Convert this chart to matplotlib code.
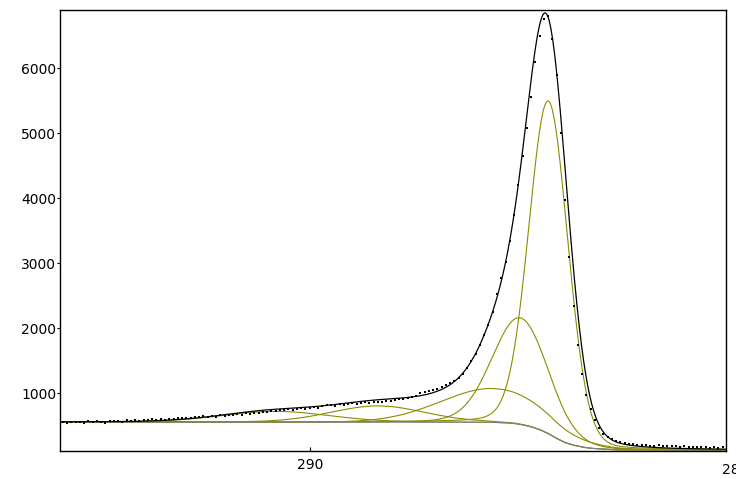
import numpy as np
import matplotlib
matplotlib.use("Agg")
import matplotlib.pyplot as plt
import matplotlib.transforms as mtransforms

# Binding energy grid of the measured points (eV), 0.1 eV steps
energia = np.linspace(295.9, 280.3, 157)

contagens = [
    548, 560, 541, 556, 563, 552, 548, 570, 559, 575,
    562, 548, 580, 566, 575, 560, 584, 571, 589, 578,
    595, 582, 600, 590, 605, 596, 611, 603, 620, 612,
    627, 618, 636, 628, 645, 632, 650, 641, 658, 650,
    668, 660, 676, 665, 690, 680, 697, 700, 715, 708,
    728, 722, 740, 735, 752, 746, 762, 770, 758, 780,
    790, 776, 800, 812, 820, 808, 830, 822, 838, 845,
    832, 850, 858, 846, 865, 872, 868, 885, 880, 898,
    905, 918, 930, 948, 965, 1000, 1012, 1030, 1045, 1062,
    1090, 1120, 1155, 1195, 1240, 1300, 1390, 1490, 1610, 1750,
    1900, 2050, 2250, 2520, 2780, 3020, 3350, 3750, 4200, 4650,
    5080, 5560, 6100, 6500, 6760, 6800, 6450, 5900, 5000, 3974,
    3100, 2350, 1750, 1300, 980, 760, 590, 460, 380, 325,
    290, 262, 245, 232, 222, 212, 208, 200, 205, 195,
    192, 198, 185, 190, 182, 188, 178, 184, 172, 180,
    175, 168, 178, 165, 172, 160, 168,
]

# Background (grey line) read at a few energies
fundo_energia = [296.0, 285.8, 285.4, 285.2, 285.0, 284.8, 284.6, 284.4,
                 284.2, 284.0, 283.8, 283.6, 283.4, 283.1, 282.8, 280.0]
fundo_valor = [557, 555, 545, 535, 515, 484, 440, 380,
               305, 240, 200, 172, 153, 140, 130, 126]

# Fitted components: position (eV), height above background, FWHM (eV), Lorentz fraction
comp_posicao = [284.39, 285.06, 285.70, 288.40, 290.80]
comp_altura = [5120, 1640, 520, 250, 165]
comp_fwhm = [1.08, 1.55, 2.9, 2.6, 3.0]
comp_lorentz = [0.1, 0.1, 0.0, 0.1, 0.1]

OLIVA = "#8c8c00"


def gl(x, pos, alt, fwhm, m):
    # Gaussian-Lorentzian sum form
    u = ((x - pos) / fwhm) ** 2
    return alt * ((1 - m) * np.exp(-4 * np.log(2) * u) + m / (1 + 4 * u))


x = np.linspace(295.86, 280.22, 800)
fundo = np.interp(x, fundo_energia[::-1], fundo_valor[::-1])

fig = plt.figure(figsize=(7.36, 4.79), dpi=100)
ax = fig.add_axes([0.0819, 0.0585, 0.9045, 0.92])

envelope = fundo.copy()
for p, a, w, m in zip(comp_posicao, comp_altura, comp_fwhm, comp_lorentz):
    pico = gl(x, p, a, w, m)
    envelope += pico
    ax.plot(x, fundo + pico, color=OLIVA, lw=0.8)

ax.plot(x, fundo, color="#808080", lw=0.8)
ax.plot(x, envelope, color="black", lw=0.9)
ax.plot(energia, contagens, "s", color="black", ms=1.9, mew=0)

ax.set_xlim(295.86, 280.22)
ax.set_ylim(112, 6892)
ax.set_xticks([290])
ax.set_yticks([1000, 2000, 3000, 4000, 5000, 6000])
ax.tick_params(axis="y", direction="out", length=2, labelsize=10, pad=1)
ax.tick_params(axis="x", direction="in", length=3, labelsize=10, pad=5)
for s in ax.spines.values():
    s.set_linewidth(1)

# the 280 label sits past the right edge of the axes
trans = mtransforms.blended_transform_factory(ax.transData, ax.transAxes)
ax.text(280.0, -0.028, "280", transform=trans, ha="center", va="top",
        fontsize=10, clip_on=False)

fig.savefig("out.png", dpi=100)
